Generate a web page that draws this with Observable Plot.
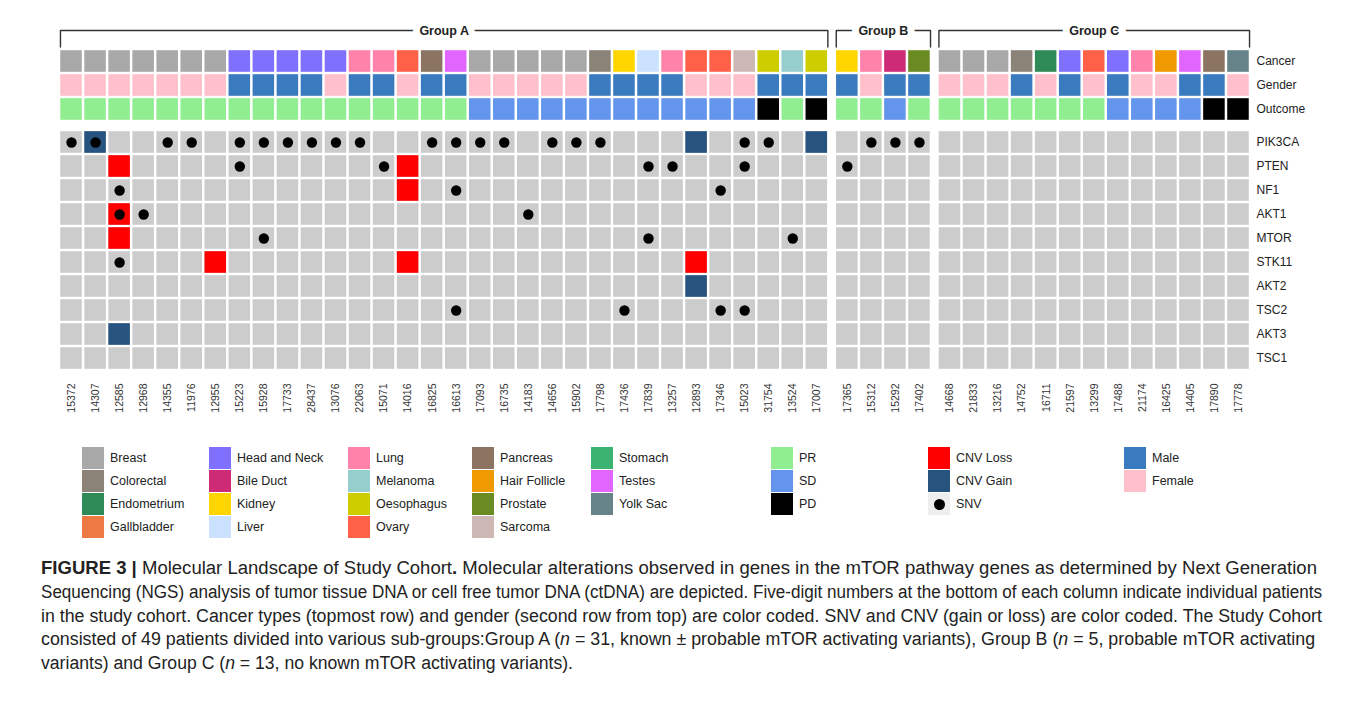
<!DOCTYPE html>
<html><head><meta charset="utf-8">
<script src="https://cdn.jsdelivr.net/npm/d3@7"></script>
<script src="https://cdn.jsdelivr.net/npm/@observablehq/plot@0.6"></script>
<style>
body{margin:0;background:#fff;font-family:"Liberation Sans",Arial,Helvetica,sans-serif;}
#wrap{position:relative;width:1355px;height:701px;overflow:hidden;background:#fff}
#chart{position:absolute;left:0;top:0}
.item{position:absolute;height:22px;display:flex;align-items:center;white-space:nowrap;font-size:12.5px;color:#222}
.sw{width:22px;height:22px;margin-right:6px;flex:none;display:flex;align-items:center;justify-content:center}
.dotsw{width:11px;height:11px;border-radius:50%;background:#000}
#caption{position:absolute;left:41px;top:557px;font-family:"Liberation Sans",Arial,sans-serif;font-size:18px;line-height:23.8px;color:#222;white-space:nowrap}
#caption .ln{display:block;width:max-content;transform-origin:0 50%}
</style></head>
<body><div id="wrap"><div id="chart"></div><div id="legend"></div><div id="caption"></div></div>
<script>
// ---------- data ----------
const groupA = ["15372","14307","12585","12968","14355","11976","12955","15223","15928","17733","28437","13076","22063","15071","14016","16825","16613","17093","16735","14183","14656","15902","17798","17436","17839","13257","12893","17346","15023","31754","13524","17007"];
const groupB = ["17365","15312","15292","17402"];
const groupC = ["14668","21833","13216","14752","16711","21597","13299","17488","21174","16425","14405","17890","17778"];

const cancerTypes = [
  "Breast","Breast","Breast","Breast","Breast","Breast","Breast",
  "Head and Neck","Head and Neck","Head and Neck","Head and Neck","Head and Neck",
  "Lung","Lung","Ovary","Pancreas","Testes",
  "Breast","Breast","Breast","Breast","Breast","Colorectal","Kidney","Liver","Lung",
  "Ovary","Ovary","Sarcoma","Oesophagus","Melanoma","Oesophagus",
  "Kidney","Lung","Bile Duct","Prostate",
  "Breast","Breast","Breast","Colorectal","Endometrium","Head and Neck","Ovary","Head and Neck","Lung","Hair Follicle","Testes","Pancreas","Yolk Sac"];
const genders = [
  "Female","Female","Female","Female","Female","Female","Female","Male","Male","Male","Male","Female","Male","Male","Female","Male","Male",
  "Female","Female","Female","Female","Female","Male","Male","Male","Male","Female","Female","Female","Male","Male","Male",
  "Male","Female","Male","Male",
  "Female","Female","Female","Male","Female","Male","Female","Male","Female","Female","Male","Male","Female"];
const outcomes = [
  "PR","PR","PR","PR","PR","PR","PR","PR","PR","PR","PR","PR","PR","PR","PR","PR","PR",
  "SD","SD","SD","SD","SD","SD","SD","SD","SD","SD","SD","SD","PD","PR","PD",
  "PR","PR","SD","PR",
  "PR","PR","PR","PR","PR","PR","PR","SD","SD","SD","SD","PD","PD"];

const genes = ["PIK3CA","PTEN","NF1","AKT1","MTOR","STK11","AKT2","TSC2","AKT3","TSC1"];
const annotationRows = ["Cancer","Gender","Outcome"];

const snv = [
  ["15372","PIK3CA"],["14307","PIK3CA"],["14355","PIK3CA"],["11976","PIK3CA"],["15223","PIK3CA"],["15928","PIK3CA"],
  ["17733","PIK3CA"],["28437","PIK3CA"],["13076","PIK3CA"],["22063","PIK3CA"],["16825","PIK3CA"],["16613","PIK3CA"],
  ["17093","PIK3CA"],["16735","PIK3CA"],["14656","PIK3CA"],["15902","PIK3CA"],["17798","PIK3CA"],["15023","PIK3CA"],
  ["31754","PIK3CA"],["15312","PIK3CA"],["15292","PIK3CA"],["17402","PIK3CA"],
  ["15223","PTEN"],["15071","PTEN"],["17839","PTEN"],["13257","PTEN"],["15023","PTEN"],["17365","PTEN"],
  ["12585","NF1"],["16613","NF1"],["17346","NF1"],
  ["12585","AKT1"],["12968","AKT1"],["14183","AKT1"],
  ["15928","MTOR"],["17839","MTOR"],["13524","MTOR"],
  ["12585","STK11"],
  ["16613","TSC2"],["17436","TSC2"],["17346","TSC2"],["15023","TSC2"]];
const cnvLoss = [["12585","PTEN"],["14016","PTEN"],["14016","NF1"],["12585","AKT1"],["12585","MTOR"],["12955","STK11"],["14016","STK11"],["12893","STK11"]];
const cnvGain = [["14307","PIK3CA"],["12893","PIK3CA"],["17007","PIK3CA"],["12893","AKT2"],["12585","AKT3"]];

const cancerColors = {
  "Breast":"#A8A8A8","Colorectal":"#8B8378","Endometrium":"#2E8B57","Gallbladder":"#EE7942",
  "Head and Neck":"#8070FF","Bile Duct":"#CD2B78","Kidney":"#FFD500","Liver":"#CAE1FF",
  "Lung":"#FF82AB","Melanoma":"#96CDCD","Oesophagus":"#CDCD00","Ovary":"#FF6048",
  "Pancreas":"#8B7462","Hair Follicle":"#EE9A00","Prostate":"#698B22","Sarcoma":"#CDB7B5",
  "Stomach":"#3CB371","Testes":"#E066FF","Yolk Sac":"#668389"};
const genderColors = {"Male":"#3A7BBF","Female":"#FFC0CB"};
const outcomeColors = {"PR":"#90EE90","SD":"#6495ED","PD":"#000000"};
const mutationColors = {"CNV Loss":"#FF0000","CNV Gain":"#27537F","SNV":"#000000"};
const cellGray = "#CCCCCC";

const cancerLegendCols = [
  ["Breast","Colorectal","Endometrium","Gallbladder"],
  ["Head and Neck","Bile Duct","Kidney","Liver"],
  ["Lung","Melanoma","Oesophagus","Ovary"],
  ["Pancreas","Hair Follicle","Prostate","Sarcoma"],
  ["Stomach","Testes","Yolk Sac"]];
const outcomeLegend = ["PR","SD","PD"];
const mutationLegend = ["CNV Loss","CNV Gain","SNV"];
const genderLegend = ["Male","Female"];

const captionLines = [
 '<b>FIGURE 3 |</b> Molecular Landscape of Study Cohort<b>.</b> Molecular alterations observed in genes in the mTOR pathway genes as determined by Next Generation',
 'Sequencing (NGS) analysis of tumor tissue DNA or cell free tumor DNA (ctDNA) are depicted. Five-digit numbers at the bottom of each column indicate individual patients',
 'in the study cohort. Cancer types (topmost row) and gender (second row from top) are color coded. SNV and CNV (gain or loss) are color coded. The Study Cohort',
 'consisted of 49 patients divided into various sub-groups:Group A (<i>n</i> = 31, known ± probable mTOR activating variants), Group B (<i>n</i> = 5, probable mTOR activating',
 'variants) and Group C (<i>n</i> = 13, no known mTOR activating variants).'];
const captionLineWidths = [1276, 1281, 1281, 1274, 532];

// ---------- layout helpers ----------
const groups = [{name:"Group A", ids:groupA},{name:"Group B", ids:groupB},{name:"Group C", ids:groupC}];
const GAP = 0.27;
const pos = new Map();
let off = 0;
groups.forEach(g => { g.start = off; g.ids.forEach((id,i) => pos.set(id, off + i)); off += g.ids.length; g.end = off; off += GAP; });
const total = off - GAP;
const patients = groups.flatMap(g => g.ids);

const GENE_GAP = 0.375;
const rowY = new Map();
annotationRows.forEach((r,i) => rowY.set(r, i));
genes.forEach((g,k) => rowY.set(g, 3 + GENE_GAP + k));
const yMax = 3 + GENE_GAP + genes.length;

const annCells = patients.flatMap((id,i) => [
  {id, row:"Cancer", color: cancerColors[cancerTypes[i]]},
  {id, row:"Gender", color: genderColors[genders[i]]},
  {id, row:"Outcome", color: outcomeColors[outcomes[i]]}]);
const bgCells = patients.flatMap(id => genes.map(g => ({id, row:g})));
const cnvCells = [
  ...cnvLoss.map(([id,g]) => ({id, row:g, color: mutationColors["CNV Loss"]})),
  ...cnvGain.map(([id,g]) => ({id, row:g, color: mutationColors["CNV Gain"]}))];
const snvPts = snv.map(([id,g]) => ({id, row:g}));

const yTop = -19/24, yLow = -0.1;
const bracket = groups.flatMap(g => [
  {g:g.name, x:g.start+0.04, y:yLow},{g:g.name, x:g.start+0.04, y:yTop},
  {g:g.name, x:g.end-0.04, y:yTop},{g:g.name, x:g.end-0.04, y:yLow}]);

const cellOpts = {insetLeft:1.25, insetRight:1.25, insetTop:1.2, insetBottom:1.2};
const x1 = d => pos.get(d.id), x2 = d => pos.get(d.id) + 1;
const y1 = d => rowY.get(d.row), y2 = d => rowY.get(d.row) + 1;

const chart = Plot.plot({
  width:1355, height:440,
  marginLeft:59, marginRight:105, marginTop:49, marginBottom:70,
  x:{domain:[0,total], axis:null},
  y:{domain:[0,yMax], reverse:true, axis:null},
  style:{fontFamily:'"Liberation Sans", Arial, sans-serif', background:"#fff"},
  marks:[
    Plot.rect(annCells, {x1, x2, y1, y2, fill: d => d.color, ...cellOpts}),
    Plot.rect(bgCells, {x1, x2, y1, y2, fill: cellGray, ...cellOpts}),
    Plot.rect(cnvCells, {x1, x2, y1, y2, fill: d => d.color, ...cellOpts}),
    Plot.dot(snvPts, {x: d => pos.get(d.id) + 0.5, y: d => rowY.get(d.row) + 0.5, r:5.2, fill: mutationColors["SNV"], stroke:null}),
    Plot.text([...annotationRows, ...genes], {x: () => total, y: d => rowY.get(d) + 0.5, text: d => d, textAnchor:"start", dx:6, fontSize:12, fill:"#222"}),
    Plot.text(patients, {x: d => pos.get(d) + 0.5, y: () => yMax, text: d => d, rotate:-90, textAnchor:"end", dy:13, fontSize:10.5, fill:"#333"}),
    Plot.line(bracket, {x:"x", y:"y", z:"g", stroke:"#333", strokeWidth:1.4}),
    Plot.text(groups, {x: g => (g.start + g.end)/2, y: () => yTop, text: g => g.name, fontWeight:"bold", fontSize:12.5, fill:"#222", stroke:"white", strokeWidth:14, paintOrder:"stroke"})
  ]
});
document.getElementById("chart").appendChild(chart);

// ---------- legend (HTML) ----------
const legend = document.getElementById("legend");
function addItem(left, top, label, color, isDot) {
  const it = document.createElement("div");
  it.className = "item"; it.style.left = left + "px"; it.style.top = top + "px";
  const sw = document.createElement("div"); sw.className = "sw";
  if (isDot) { sw.style.background = "#EEEEEE"; const d = document.createElement("div"); d.className = "dotsw"; sw.appendChild(d); }
  else sw.style.background = color;
  it.appendChild(sw);
  const t = document.createElement("span"); t.textContent = label; it.appendChild(t);
  legend.appendChild(it);
}
const legTop = 447, legStep = 23;
const cancerColLeft = [82, 209, 348, 472, 591];
cancerLegendCols.forEach((col,c) => col.forEach((name,r) => addItem(cancerColLeft[c], legTop + r*legStep, name, cancerColors[name])));
outcomeLegend.forEach((n,r) => addItem(771, legTop + r*legStep, n, outcomeColors[n]));
mutationLegend.forEach((n,r) => addItem(928, legTop + r*legStep, n, mutationColors[n], n === "SNV"));
genderLegend.forEach((n,r) => addItem(1124, legTop + r*legStep, n, genderColors[n]));

// ---------- caption (each line fitted to the reference line length) ----------
const cap = document.getElementById("caption");
captionLines.forEach((html, i) => {
  const ln = document.createElement("span");
  ln.className = "ln"; ln.innerHTML = html;
  cap.appendChild(ln);
  const w = ln.getBoundingClientRect().width;
  ln.style.transform = "scaleX(" + (captionLineWidths[i] / w).toFixed(4) + ")";
});
</script>
</body></html>
